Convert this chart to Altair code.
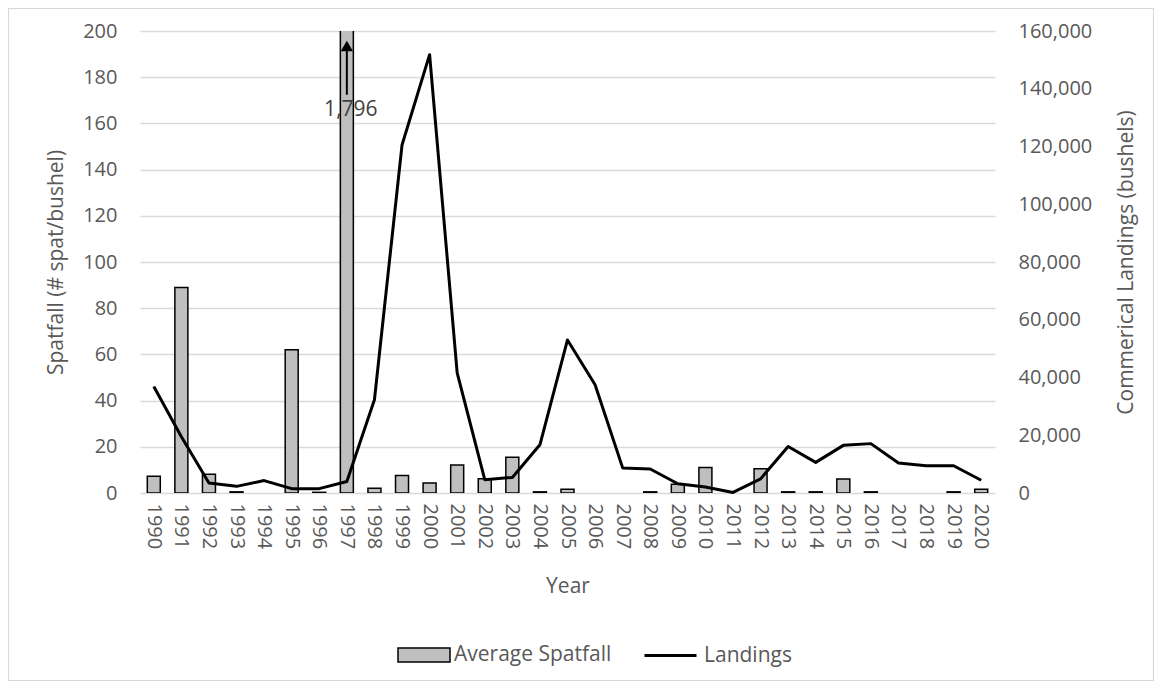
import altair as alt
import pandas as pd

years = [str(y) for y in range(1990, 2021)]
spatfall = [7.2, 89, 8.1, 0.5, 0, 62, 0.3, 1796, 2.1, 7.6, 4.3, 12.1, 6.2, 15.5, 0.5, 1.6,
            0, 0, 0.5, 3.8, 11, 0, 10.5, 0.5, 0.5, 6.1, 0.5, 0, 0, 0.5, 1.6]
landings = [36900, 19500, 3500, 2300, 4300, 1500, 1500, 4000, 32300, 120500, 151800, 41600,
            4600, 5400, 16700, 53000, 37500, 8700, 8300, 3200, 2100, 200, 4900, 16100,
            10600, 16500, 17100, 10400, 9450, 9450, 4400]

ann_year = ["1997"]
ann_label = ["1,796"]
ann_label_y = [166]
ann_arrow_lo = [172.4]
ann_arrow_hi = [194]
ann_arrow_tip = [193.5]

FONT = "Open Sans"
GRAY = "#595959"

df = pd.DataFrame({"Year": years, "Spatfall": spatfall, "Landings": landings,
                   "SpatSeries": "Average Spatfall", "LandSeries": "Landings"})
ann = pd.DataFrame({"Year": ann_year, "label": ann_label, "label_y": ann_label_y,
                    "lo": ann_arrow_lo, "hi": ann_arrow_hi, "tip": ann_arrow_tip})

X = alt.X("Year:N", title="Year",
          scale=alt.Scale(domain=years, paddingInner=0, paddingOuter=0),
          axis=alt.Axis(labelAngle=90, labelPadding=10, ticks=False, tickSize=0,
                        domain=False, titlePadding=27))

left_scale = alt.Scale(domain=[0, 200], nice=False)
left_axis = alt.Axis(title="Spatfall (# spat/bushel)", values=list(range(0, 201, 20)),
                     grid=True, gridColor="#D9D9D9", gridWidth=1.3, ticks=False, tickSize=0,
                     domain=False, labelPadding=23, titlePadding=16)
right_scale = alt.Scale(domain=[0, 160000], nice=False)
right_axis = alt.Axis(title="Commerical Landings (bushels)", orient="right",
                      values=list(range(0, 160001, 20000)), format=",.0f",
                      grid=False, ticks=False, tickSize=0, domain=False,
                      labelPadding=23, titlePadding=45, titleAngle=270)

border = alt.Chart(pd.DataFrame({"a": [0]})).mark_rect(
    fillOpacity=0, stroke="#D9D9D9", strokeWidth=1.2
).encode(x=alt.value(-131.5), x2=alt.value(1013.5), y=alt.value(-22.5), y2=alt.value(649.5))

bars = alt.Chart(df).transform_filter("datum.Spatfall > 0").mark_bar(
    size=13, stroke="black", strokeWidth=1.5, clip=True
).encode(
    x=X,
    y=alt.Y("Spatfall:Q", scale=left_scale, axis=left_axis),
    fill=alt.Fill("SpatSeries:N",
                  scale=alt.Scale(domain=["Average Spatfall"], range=["#BFBFBF"]),
                  legend=alt.Legend(title=None, orient="none", legendX=257, legendY=597,
                                    symbolType="M-1,-0.27H1V0.27H-1Z", symbolSize=2704,
                                    symbolStrokeColor="black", symbolStrokeWidth=1.5,
                                    labelOffset=3, labelFontSize=21, labelColor=GRAY,
                                    labelFont=FONT)),
)

rule = alt.Chart(ann).mark_rule(color="black", strokeWidth=2).encode(
    x=X,
    y=alt.Y("lo:Q", scale=left_scale, axis=left_axis),
    y2="hi:Q",
)
tip = alt.Chart(ann).mark_point(shape="triangle-up", filled=True, size=150,
                                color="black", opacity=1).encode(
    x=X,
    y=alt.Y("tip:Q", scale=left_scale, axis=left_axis),
)
label = alt.Chart(ann).mark_text(fontSize=21, color="#404040", font=FONT, dx=4).encode(
    x=X,
    y=alt.Y("label_y:Q", scale=left_scale, axis=left_axis),
    text="label:N",
)

left = alt.layer(border, bars, rule, tip, label)

line = alt.Chart(df).mark_line(strokeWidth=3, strokeJoin="round").encode(
    x=X,
    y=alt.Y("Landings:Q", scale=right_scale, axis=right_axis),
    stroke=alt.Stroke("LandSeries:N",
                      scale=alt.Scale(domain=["Landings"], range=["black"]),
                      legend=alt.Legend(title=None, orient="none", legendX=503, legendY=597,
                                        symbolType="stroke", symbolSize=2704,
                                        symbolStrokeWidth=3, labelOffset=6,
                                        labelFontSize=21, labelColor=GRAY, labelFont=FONT)),
)

chart = alt.layer(left, line).resolve_scale(y="independent").properties(
    width=855, height=462,
    autosize=alt.AutoSizeParams(type="none"),
    padding={"left": 132, "top": 23, "right": 159, "bottom": 188},
    background="white",
).configure_view(stroke=None).configure_axis(
    labelFont=FONT, labelFontSize=20, labelColor=GRAY,
    titleFont=FONT, titleFontSize=21, titleColor=GRAY, titleFontWeight="normal",
)

chart.save("out.html", embed_options={"renderer": "svg", "actions": False})
